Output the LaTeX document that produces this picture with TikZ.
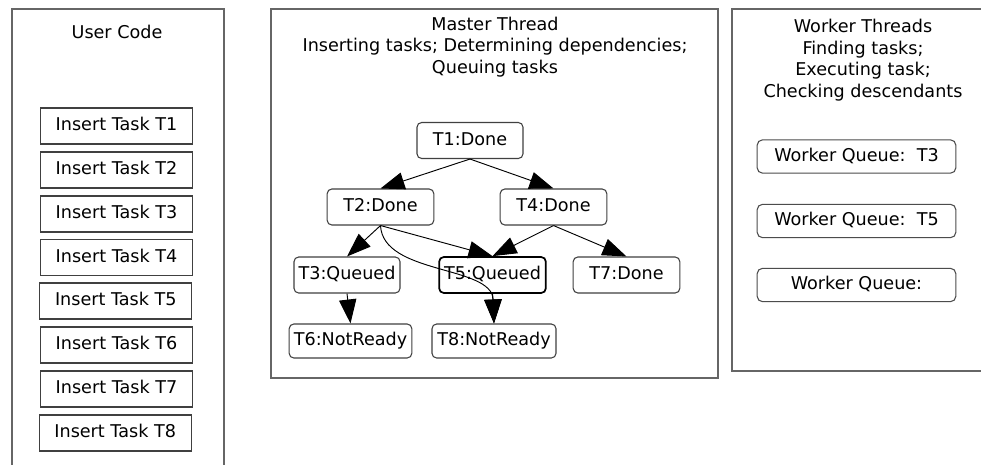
\documentclass[tikz,border=0pt]{standalone}
\usepackage{fontspec}
\setmainfont{DejaVu Sans}
\usetikzlibrary{arrows.meta}
\begin{document}
\begin{tikzpicture}[x=0.75pt,y=-0.75pt,
  every node/.style={font=\fontsize{13.2}{16.2}\selectfont, inner sep=0pt},
  panel/.style={draw=black!60, line width=0.8pt},
  insertbox/.style={draw=black!75, line width=0.8pt, minimum width=114pt, minimum height=27pt,
    text height=9.5pt, text depth=2.5pt},
  tasknode/.style={draw=black!75, line width=0.8pt, rounded corners=3.5pt, minimum height=27pt,
    text height=9.5pt, text depth=2.5pt},
  queuebox/.style={draw=black!70, line width=0.8pt, rounded corners=4pt, minimum width=149pt,
    minimum height=25pt, text height=9.5pt, text depth=2.5pt},
  dep/.style={draw=black, line width=0.7pt, -{Triangle[length=18pt,width=13pt]}}]

\clip (0,0) rectangle (981,464);
\fill[white] (0,0) rectangle (981,464);

% ---- user code panel ----
\draw[panel] (12,480) -- (12,9) -- (224,9) -- (224,480);
\node (uc) at (117,32) {User Code};
\node[insertbox] (i1) at (116.5,126) {Insert Task T1};
\node[insertbox] (i2) at (116.5,170) {Insert Task T2};
\node[insertbox] (i3) at (116.5,214) {Insert Task T3};
\node[insertbox] (i4) at (116.5,257.5) {Insert Task T4};
\node[insertbox] (i5) at (115.8,301) {Insert Task T5};
\node[insertbox] (i6) at (116.5,345) {Insert Task T6};
\node[insertbox] (i7) at (116.5,389) {Insert Task T7};
\node[insertbox] (i8) at (115.2,433) {Insert Task T8};

% ---- master thread panel ----
\draw[panel] (271,9) rectangle (718,378);
\node[align=center] (mt) at (495,47) {Master Thread\\Inserting tasks; Determining dependencies;\\Queuing tasks};

\node[tasknode, minimum width=79.5pt] (t1) at (470,140.5) {T1:Done};
\node[tasknode, minimum width=80pt] (t2) at (380.5,207) {T2:Done};
\node[tasknode, minimum width=80pt] (t4) at (553.5,207) {T4:Done};
\node[tasknode, minimum width=79.5pt] (t3) at (347,275) {T3:Queued};
\node[tasknode, minimum width=80pt, draw=black, line width=1.3pt] (t5) at (492.5,275) {T5:Queued};
\node[tasknode, minimum width=80pt] (t7) at (626.5,275) {T7:Done};
\node[tasknode, minimum width=92pt, minimum height=25.5pt] (t6) at (350.5,341) {T6:NotReady};
\node[tasknode, minimum width=93pt, minimum height=25.5pt] (t8) at (494,341) {T8:NotReady};

% dependency edges
\draw[dep] (t1.south) -- (t2.north);
\draw[dep] (t1.south) -- (t4.north);
\draw[dep] (t2.south) -- (t3.north);
\draw[dep] (t2.south) -- (t5.north);
\draw[dep] (t4.south) -- (t5.north);
\draw[dep] (t4.south) -- (t7.north);
\draw[dep] (t3.south) -- (t6.north);
\draw[dep] (t5.south) -- (t8.north);
\draw[dep] (t2.south) .. controls (383,275) and (492,265) .. (t8.north);

% ---- worker threads panel ----
\draw[panel] (1000,9) -- (732,9) -- (732,371) -- (1000,371);
\node[align=center] (wt) at (863,60) {Worker Threads\\Finding tasks;\\Executing task;\\Checking descendants};
\node[queuebox] (q1) at (856.5,156.5) {Worker Queue:\ \ T3};
\node[queuebox] (q2) at (856.5,221) {Worker Queue:\ \ T5};
\node[queuebox] (q3) at (856.5,285) {Worker Queue:\hspace{15pt}};
\end{tikzpicture}
\end{document}
